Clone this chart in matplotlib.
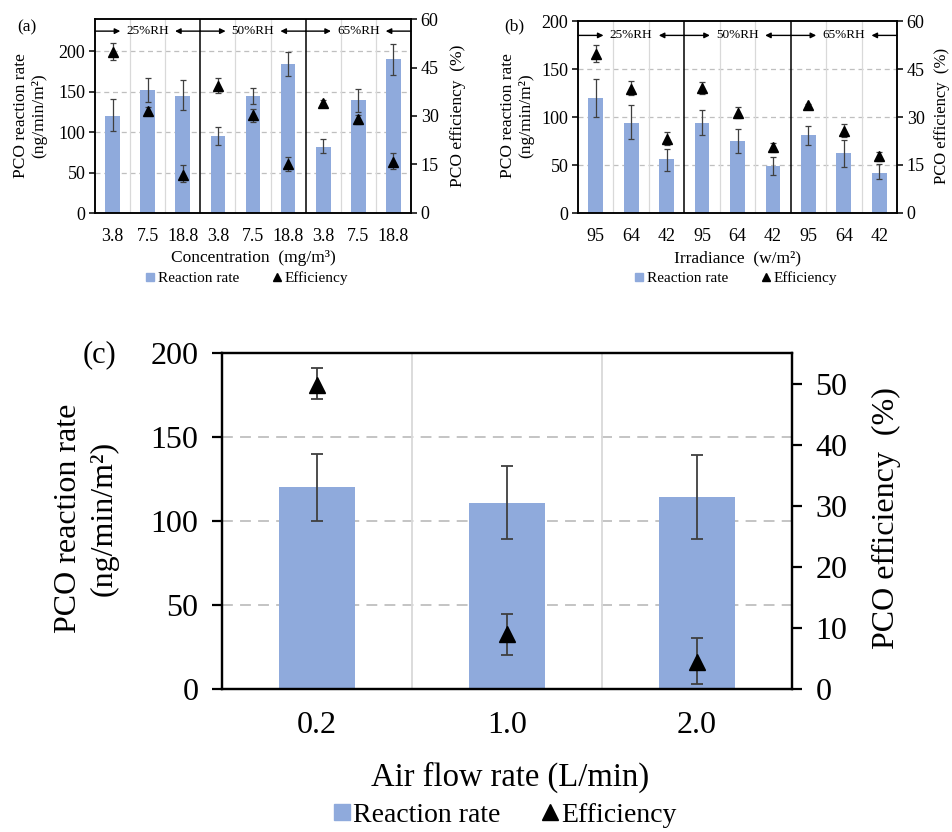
import matplotlib
matplotlib.use("Agg")
import matplotlib.pyplot as plt
from matplotlib.lines import Line2D
import numpy as np

plt.rcParams['font.family'] = ['Liberation Serif', 'DejaVu Serif']

# ---------------- data ----------------
rh_groups = ['25%RH', '50%RH', '65%RH']

# panel (a): concentration
a_labels = ['3.8', '7.5', '18.8', '3.8', '7.5', '18.8', '3.8', '7.5', '18.8']
a_rate = [120, 152, 145, 95, 145, 184, 82, 140, 190]
a_rate_lo = [101, 137, 127, 84, 135, 170, 74, 125, 171]
a_rate_hi = [141, 167, 165, 107, 155, 199, 92, 154, 209]
a_eff = [49.9, 31.5, 11.8, 39.2, 30.2, 15.1, 33.9, 29.0, 15.7]
a_eff_lo = [47.3, 30.3, 9.7, 37.0, 28.2, 13.1, 33.0, 27.5, 13.5]
a_eff_hi = [52.5, 32.8, 14.8, 41.7, 32.2, 17.4, 35.0, 30.3, 18.6]

# panel (b): irradiance
b_labels = ['95', '64', '42', '95', '64', '42', '95', '64', '42']
b_rate = [120, 94, 56, 94, 75, 49, 81, 62, 42]
b_rate_lo = [100, 77, 44, 81, 62, 40, 71, 48, 35]
b_rate_hi = [140, 112, 67, 107, 87, 58, 91, 76, 51]
b_eff = [49.8, 38.9, 23.2, 39.1, 31.3, 20.5, 33.6, 25.7, 17.8]
b_eff_lo = [47.2, 36.8, 21.3, 37.2, 29.8, 19.2, 33.1, 23.6, 16.4]
b_eff_hi = [52.4, 41.4, 25.4, 40.9, 33.0, 21.8, 34.1, 27.9, 19.1]

# panel (c): air flow rate
c_labels = ['0.2', '1.0', '2.0']
c_rate = [120, 111, 114]
c_rate_lo = [100, 89, 89]
c_rate_hi = [140, 133, 139]
c_eff = [49.8, 9.0, 4.5]
c_eff_lo = [47.4, 5.6, 0.8]
c_eff_hi = [52.6, 12.3, 8.4]

BAR = '#8FAADC'
ERR = '#3F3F3F'
GRID = '#BFBFBF'
VGRID = '#D9D9D9'

W, H = 952, 832
fig = plt.figure(figsize=(W / 100, H / 100), dpi=100)


def px_axes(l, t, r, b):
    return fig.add_axes([l / W, 1 - b / H, (r - l) / W, (b - t) / H])


def draw_panel(ax, labels, rate, rlo, rhi, eff, elo, ehi, ymax, yticks,
               ymax2, yticks2, fs, grid_lw, dash, vgrid_x, black_x,
               width, msize, capsize, spine_lw, xpad, tlen, ypad):
    x = np.arange(len(labels))
    rate = np.array(rate, float)
    eff = np.array(eff, float)
    ax.set_xlim(-0.5, len(labels) - 0.5)
    ax.set_ylim(0, ymax)
    ax.set_yticks(yticks)
    for yv in yticks[1:]:
        if yv < ymax:
            ax.axhline(yv, color=GRID, lw=grid_lw, ls=(0, dash), zorder=0)
    for xv in vgrid_x:
        ax.axvline(xv, color=VGRID, lw=grid_lw, zorder=0)
    for xv in black_x:
        ax.axvline(xv, color='black', lw=spine_lw, zorder=3)
    ax.bar(x, rate, width=width, color=BAR, zorder=2)
    ax.errorbar(x, rate, yerr=[rate - np.array(rlo), np.array(rhi) - rate],
                fmt='none', ecolor=ERR, elinewidth=grid_lw, capsize=capsize,
                capthick=grid_lw, zorder=4)
    ax.set_xticks(x)
    ax.set_xticklabels(labels)
    ax.tick_params(axis='x', length=0, pad=xpad, labelsize=fs)
    ax.tick_params(axis='y', direction='out', length=tlen, width=spine_lw,
                   labelsize=fs, pad=ypad)
    for s in ax.spines.values():
        s.set_linewidth(spine_lw)
    ax2 = ax.twinx()
    ax2.set_ylim(0, ymax2)
    ax2.set_yticks(yticks2)
    ax2.tick_params(axis='y', direction='out', length=tlen, width=spine_lw,
                    labelsize=fs, pad=ypad)
    for s in ax2.spines.values():
        s.set_linewidth(spine_lw)
    ax2.errorbar(x, eff, yerr=[eff - np.array(elo), np.array(ehi) - eff],
                 fmt='^', color='black', markersize=msize, ecolor=ERR,
                 elinewidth=grid_lw, capsize=capsize, capthick=grid_lw,
                 zorder=5)
    return ax2


def rh_arrows(ax, y, fs, half=0.78):
    for g, name in enumerate(rh_groups):
        s = g * 3 - 0.5
        c = g * 3 + 1
        e = g * 3 + 2.5
        ax.text(c, y, name, ha='center', va='center', fontsize=fs, zorder=6)
        ap = dict(arrowstyle='-|>', color='black', lw=1.0, mutation_scale=8,
                  shrinkA=0, shrinkB=0)
        ax.annotate('', xy=(c - half, y), xytext=(s, y), arrowprops=ap)
        ax.annotate('', xy=(c + half, y), xytext=(e, y), arrowprops=ap)


def legend(xc, yc, fs, ms, handletextpad, colspacing):
    handles = [Line2D([], [], marker='s', ls='none', color=BAR, markersize=ms),
               Line2D([], [], marker='^', ls='none', color='black', markersize=ms)]
    fig.legend(handles, ['Reaction rate', 'Efficiency'], loc='center',
               bbox_to_anchor=(xc / W, 1 - yc / H), ncol=2, frameon=False,
               fontsize=fs, handletextpad=handletextpad,
               columnspacing=colspacing, handlelength=0.6,
               borderaxespad=0, borderpad=0)


# ---------------- panel (a) ----------------
axa = px_axes(95, 19, 411, 213)
draw_panel(axa, a_labels, a_rate, a_rate_lo, a_rate_hi, a_eff, a_eff_lo, a_eff_hi,
           240, [0, 50, 100, 150, 200], 60, [0, 15, 30, 45, 60], 13, 0.9, (4, 3),
           [0.5, 1.5, 3.5, 4.5, 6.5, 7.5], [2.5, 5.5], 0.42, 7, 2.5, 1.1, 11, 4, 3)
rh_arrows(axa, 225, 9.5)
fig.text(27 / W, 1 - 27 / H, '(a)', ha='center', va='center', fontsize=12.5)
fig.text(30 / W, 1 - 116 / H, 'PCO reaction rate\n(ng/min/m²)', rotation=90,
         ha='center', va='center', fontsize=12.5, linespacing=1.2)
fig.text(458 / W, 1 - 116 / H, 'PCO efficiency  (%)', rotation=90,
         ha='center', va='center', fontsize=12.5)
fig.text(253 / W, 1 - 258 / H, 'Concentration  (mg/m³)', ha='center',
         va='center', fontsize=12.5)
legend(247, 278, 11, 6, 0.2, 2.2)

# ---------------- panel (b) ----------------
axb = px_axes(578, 21, 897, 213)
draw_panel(axb, b_labels, b_rate, b_rate_lo, b_rate_hi, b_eff, b_eff_lo, b_eff_hi,
           200, [0, 50, 100, 150, 200], 60, [0, 15, 30, 45, 60], 13, 0.9, (4, 3),
           [0.5, 1.5, 3.5, 4.5, 6.5, 7.5], [2.5, 5.5], 0.42, 7, 2.5, 1.1, 11, 4, 3)
rh_arrows(axb, 185, 9.5)
fig.text(514 / W, 1 - 26 / H, '(b)', ha='center', va='center', fontsize=12.5)
fig.text(517 / W, 1 - 116 / H, 'PCO reaction rate\n(ng/min/m²)', rotation=90,
         ha='center', va='center', fontsize=12.5, linespacing=1.25)
fig.text(942 / W, 1 - 116 / H, 'PCO efficiency  (%)', rotation=90,
         ha='center', va='center', fontsize=12)
fig.text(737 / W, 1 - 258 / H, 'Irradiance  (w/m²)', ha='center',
         va='center', fontsize=12.5)
legend(736, 278, 11, 6, 0.2, 2.2)

# ---------------- panel (c) ----------------
axc = px_axes(222, 353, 792, 689)
draw_panel(axc, c_labels, c_rate, c_rate_lo, c_rate_hi, c_eff, c_eff_lo, c_eff_hi,
           200, [0, 50, 100, 150, 200], 55, [0, 10, 20, 30, 40, 50], 23, 1.3, (6, 4),
           [0.5, 1.5], [], 0.4, 12, 4, 1.6, 16, 7, 10)
fig.text(100 / W, 1 - 355 / H, '(c)', ha='center', va='center', fontsize=22)
fig.text(86 / W, 1 - 518 / H, 'PCO reaction rate\n(ng/min/m²)', rotation=90,
         ha='center', va='center', fontsize=23, linespacing=1.3)
fig.text(886 / W, 1 - 518 / H, 'PCO efficiency  (%)', rotation=90,
         ha='center', va='center', fontsize=23)
fig.text(510 / W, 1 - 777 / H, 'Air flow rate (L/min)', ha='center',
         va='center', fontsize=23.5)
legend(505, 815, 20, 12, 0.1, 1.5)

fig.savefig('out.png', dpi=100)
